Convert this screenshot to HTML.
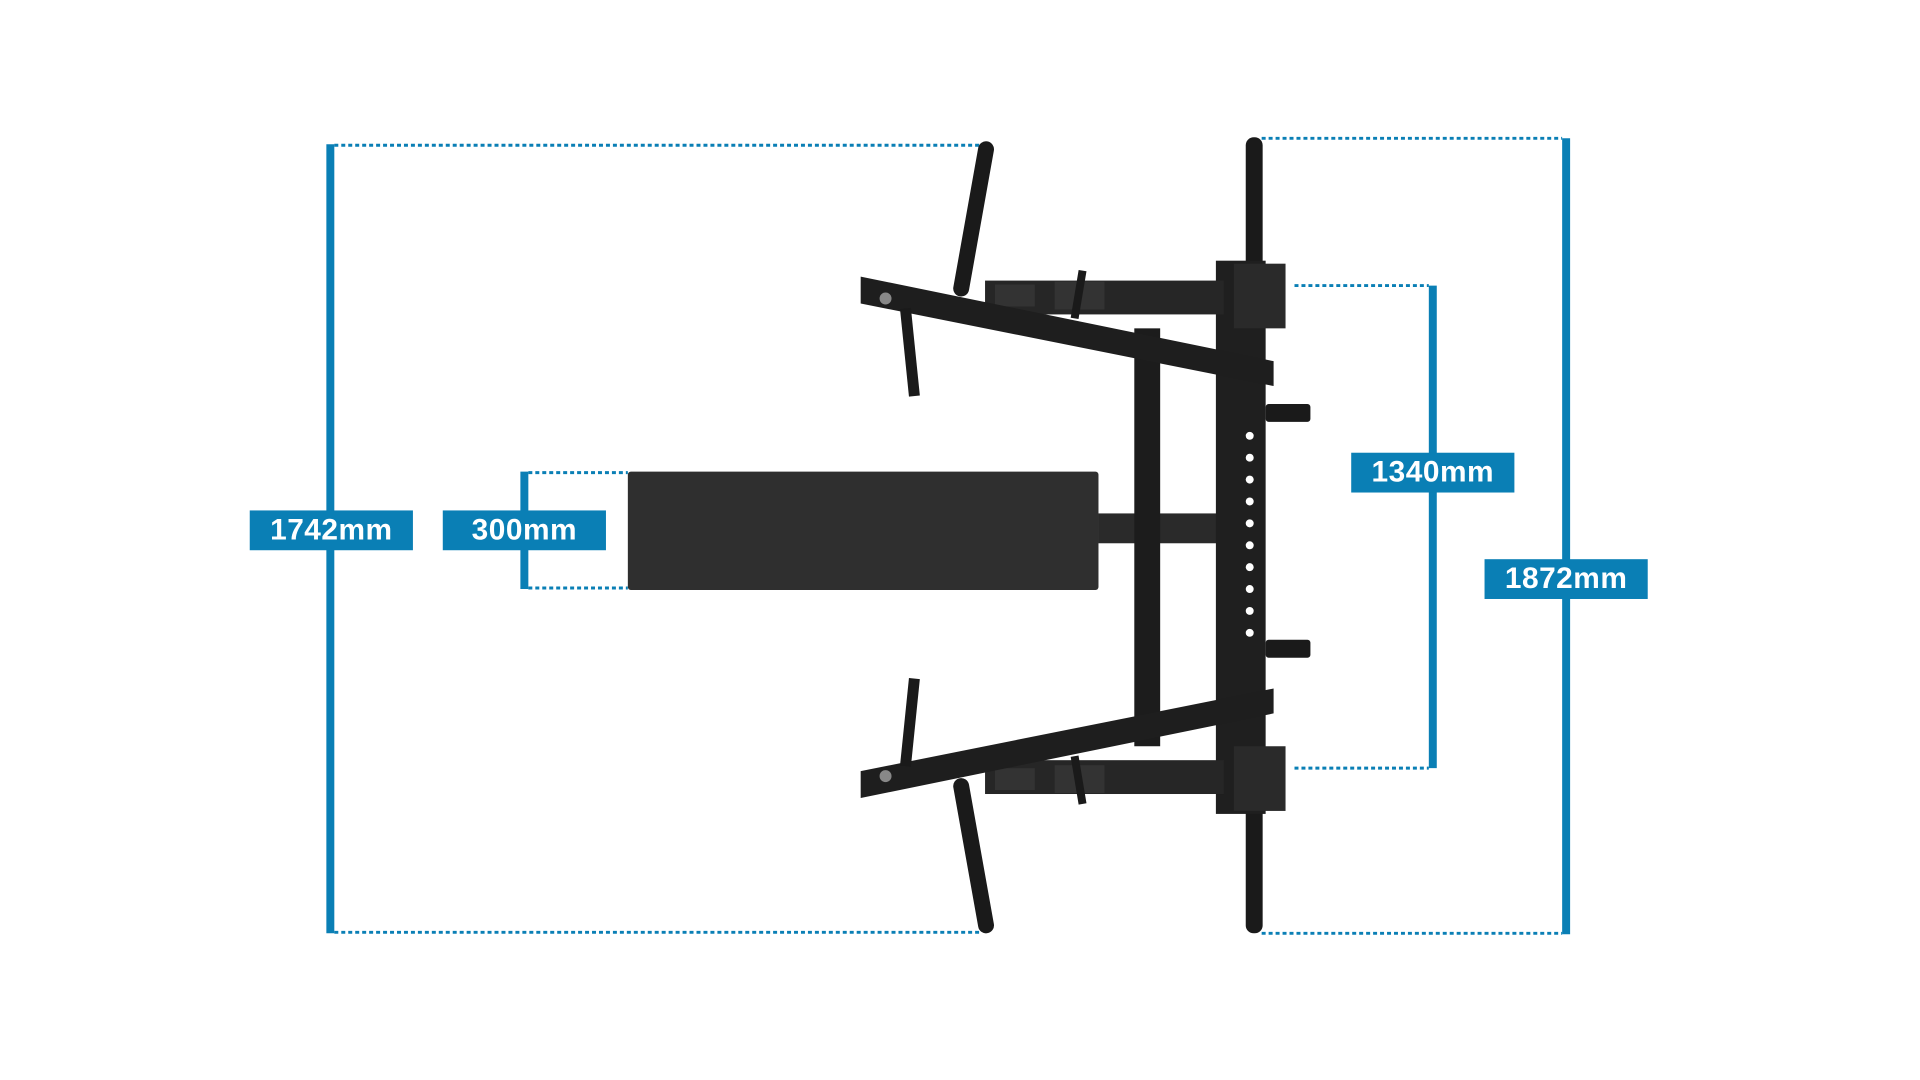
<!DOCTYPE html>
<html><head><meta charset="utf-8"><style>
html,body{margin:0;padding:0;background:#fff;width:1920px;height:1080px;overflow:hidden}
#wrap{position:absolute;left:0;top:0;width:1920px;height:1080px;transform:scale(0.995);transform-origin:0 0}
.lbl{position:absolute;background:#0a7fb5;color:#fff;font-family:"Liberation Sans",sans-serif;font-weight:bold;font-size:30px;display:flex;align-items:center;justify-content:center;height:40px;width:164px;letter-spacing:0.5px}
</style></head><body><div id="wrap">
<svg width="1920" height="1080" style="position:absolute;left:0;top:0">
<g stroke="#0a7fb5" fill="none">
<line x1="332" y1="145" x2="332" y2="938" stroke-width="8"/>
<line x1="527" y1="474" x2="527" y2="592" stroke-width="8"/>
<line x1="1440" y1="287" x2="1440" y2="772" stroke-width="8"/>
<line x1="1574" y1="139" x2="1574" y2="939" stroke-width="8"/>
<g stroke-width="3" stroke-dasharray="4 3">
<line x1="336" y1="146" x2="985" y2="146"/>
<line x1="336" y1="937" x2="985" y2="937"/>
<line x1="531" y1="475" x2="631" y2="475"/>
<line x1="531" y1="591" x2="631" y2="591"/>
<line x1="1268" y1="139" x2="1570" y2="139"/>
<line x1="1268" y1="938" x2="1570" y2="938"/>
<line x1="1301" y1="287" x2="1436" y2="287"/>
<line x1="1301" y1="772" x2="1436" y2="772"/>
</g></g>
<rect x="631" y="474" width="473" height="119" rx="3" fill="#2f2f2f"/>
<rect x="1104" y="516" width="120" height="30" fill="#2a2a2a"/>
<rect x="1140" y="330" width="26" height="420" fill="#1c1c1c"/>
<rect x="1252" y="138" width="17" height="800" rx="8" fill="#1a1a1a"/>
<rect x="1222" y="262" width="50" height="556" fill="#1f1f1f"/>
<rect x="1240" y="265" width="52" height="65" fill="#2a2a2a"/>
<rect x="1240" y="750" width="52" height="65" fill="#2a2a2a"/>
<rect x="1272" y="406" width="45" height="18" rx="3" fill="#1a1a1a"/>
<rect x="1272" y="643" width="45" height="18" rx="3" fill="#1a1a1a"/>
<g fill="#fff">
<circle cx="1256" cy="438" r="4"/><circle cx="1256" cy="460" r="4"/><circle cx="1256" cy="482" r="4"/><circle cx="1256" cy="504" r="4"/><circle cx="1256" cy="526" r="4"/><circle cx="1256" cy="548" r="4"/><circle cx="1256" cy="570" r="4"/><circle cx="1256" cy="592" r="4"/><circle cx="1256" cy="614" r="4"/><circle cx="1256" cy="636" r="4"/>
</g>
<g id="arm">
<rect x="990" y="282" width="240" height="34" fill="#262626"/>
<rect x="1060" y="283" width="50" height="28" fill="#333"/>
<rect x="1000" y="286" width="40" height="22" fill="#333"/>
<polygon points="865,278 1280,363 1280,388 865,305" fill="#1e1e1e"/>
<line x1="991" y1="150" x2="966" y2="290" stroke="#1a1a1a" stroke-width="16" stroke-linecap="round"/>
<line x1="910" y1="310" x2="919" y2="398" stroke="#1a1a1a" stroke-width="11"/>
<line x1="1088" y1="272" x2="1080" y2="320" stroke="#1a1a1a" stroke-width="8"/>
<circle cx="890" cy="300" r="6" fill="#888"/>
</g>
<use href="#arm" transform="translate(0,1080) scale(1,-1)"/>
</svg>
<div class="lbl" style="left:251px;top:513px">1742mm</div>
<div class="lbl" style="left:445px;top:513px">300mm</div>
<div class="lbl" style="left:1358px;top:455px">1340mm</div>
<div class="lbl" style="left:1492px;top:562px">1872mm</div>
</div></body></html>
